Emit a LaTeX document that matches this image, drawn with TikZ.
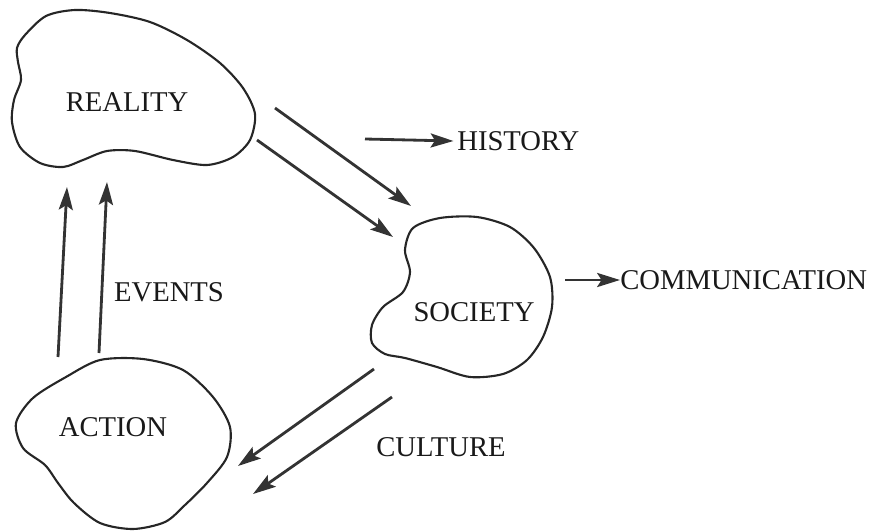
\documentclass[tikz,border=0pt]{standalone}
\usepackage{fontspec}
\setmainfont{Liberation Serif}
\usetikzlibrary{positioning, arrows.meta}

\begin{document}
\begin{tikzpicture}[
  x=0.02cm, y=-0.02cm,
  % Node Styles
  blobtext/.style={font=\fontsize{16.3}{19}\selectfont, text=black!90, inner sep=0pt},
  blob/.style={draw=black!85, line width=1.2pt},
  % Arrow Styles
  solidarrow/.style={-{Stealth[length=13pt, width=8pt, inset=2.5pt]}, line width=1.6pt, draw=black!80}
]
\useasboundingbox (0,0) rectangle (873,531);

% Blobs
\draw[blob] plot[smooth cycle] coordinates {(25,35) (46,16) (75,10) (110,13) (150,22) (187,40) (220,63) (243,88) (255,114) (250,140) (233,157) (207,165) (173,160) (135,151) (107,151) (83,160) (63,167) (40,163) (20,147) (12,122) (14,100) (21,80) (18,62) (17,48)};
\draw[blob] plot[smooth cycle] coordinates {(413,228) (440,218) (477,217) (510,227) (534,248) (550,277) (552,307) (543,337) (527,360) (503,374) (470,377) (437,367) (405,358) (385,354) (372,343) (372,325) (383,307) (403,292) (410,272) (405,250)};
\draw[blob] plot[smooth cycle] coordinates {(100,360) (143,359) (183,370) (213,397) (230,427) (227,457) (207,483) (185,505) (165,522) (133,529) (100,523) (74,503) (58,483) (45,465) (23,448) (16,423) (33,398) (66,377)};

% Nodes
\node[blobtext] (Reality) at (127,102) {REALITY};
\node[blobtext] (Society) at (474,312) {SOCIETY};
\node[blobtext] (Action) at (113,427) {ACTION};
\node[blobtext, anchor=west] (History) at (457,141) {HISTORY};
\node[blobtext, anchor=west] (Communication) at (620,280) {COMMUNICATION};
\node[blobtext] (Events) at (169,292) {EVENTS};
\node[blobtext] (Culture) at (441,447) {CULTURE};

% Arrow ends
\coordinate (RealOutA) at (275,108);
\coordinate (RealOutB) at (257,140);
\coordinate (SocInA) at (411,206);
\coordinate (SocInB) at (393,237);
\coordinate (HistStart) at (365,139);
\coordinate (CommStart) at (565,280);
\coordinate (SocOutA) at (374,369);
\coordinate (SocOutB) at (392,397);
\coordinate (ActInA) at (238,466);
\coordinate (ActInB) at (253,494);
\coordinate (ActOutA) at (58,357);
\coordinate (ActOutB) at (99,353);
\coordinate (RealInA) at (67,187);
\coordinate (RealInB) at (107,182);

% Arrows
\draw[solidarrow] (RealOutA) -- (SocInA);
\draw[solidarrow] (RealOutB) -- (SocInB);
\draw[solidarrow] (HistStart) -- ([xshift=-2pt]History.west);
\draw[solidarrow] (CommStart) -- (Communication.west);
\draw[solidarrow] (SocOutA) -- (ActInA);
\draw[solidarrow] (SocOutB) -- (ActInB);
\draw[solidarrow] (ActOutA) -- (RealInA);
\draw[solidarrow] (ActOutB) -- (RealInB);

\end{tikzpicture}
\end{document}
